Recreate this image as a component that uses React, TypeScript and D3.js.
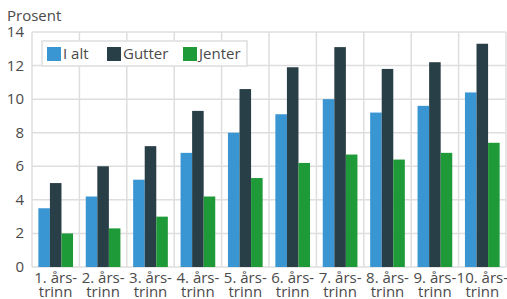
import { useEffect, useRef } from "react";
import * as d3 from "d3";

// Data
const trinn = ["1.", "2.", "3.", "4.", "5.", "6.", "7.", "8.", "9.", "10."];
const serier = ["I alt", "Gutter", "Jenter"];
const iAlt = [3.5, 4.2, 5.2, 6.8, 8.0, 9.1, 10.0, 9.2, 9.6, 10.4];
const gutter = [5.0, 6.0, 7.2, 9.3, 10.6, 11.9, 13.1, 11.8, 12.2, 13.3];
const jenter = [2.0, 2.3, 3.0, 4.2, 5.3, 6.2, 6.7, 6.4, 6.8, 7.4];
const yTicks = [0, 2, 4, 6, 8, 10, 12, 14];

const FARGER = ["#3a95d3", "#283f48", "#1f9a38"];

const App = () => {
  const svgRef = useRef<SVGSVGElement>(null);

  useEffect(() => {
    if (!svgRef.current) return;
    const width = 507;
    const height = 299;
    const margin = { top: 32, right: 1, bottom: 32, left: 32 };
    const innerWidth = width - margin.left - margin.right;
    const innerHeight = height - margin.top - margin.bottom;

    const svg = d3.select(svgRef.current);
    svg.selectAll("*").remove();
    svg.attr("width", width).attr("height", height);

    const font = "'Open Sans', sans-serif";
    const textColor = "#4a4a4a";
    const g = svg.append("g").attr("transform", `translate(${margin.left},${margin.top})`);

    const x = d3.scaleBand().domain(trinn).range([0, innerWidth]).paddingInner(0).paddingOuter(0);
    const xInner = d3
      .scaleBand()
      .domain(serier)
      .range([0, x.bandwidth()])
      .paddingOuter(0.55)
      .paddingInner(0);
    const y = d3.scaleLinear().domain([0, 14]).range([innerHeight, 0]);

    // grid
    g.append("g")
      .selectAll("line")
      .data(yTicks)
      .join("line")
      .attr("x1", 0)
      .attr("x2", innerWidth)
      .attr("y1", (d) => y(d))
      .attr("y2", (d) => y(d))
      .attr("stroke", "#dedede")
      .attr("stroke-width", 1.5);

    const bounds = trinn.map((t) => x(t) ?? 0).concat([innerWidth]);
    g.append("g")
      .selectAll("line")
      .data(bounds)
      .join("line")
      .attr("x1", (d) => d)
      .attr("x2", (d) => d)
      .attr("y1", 0)
      .attr("y2", innerHeight)
      .attr("stroke", "#dedede")
      .attr("stroke-width", 1.5);

    // bars
    const verdier = [iAlt, gutter, jenter];
    serier.forEach((s, si) => {
      g.append("g")
        .selectAll("rect")
        .data(verdier[si])
        .join("rect")
        .attr("x", (_, i) => (x(trinn[i]) ?? 0) + (xInner(s) ?? 0))
        .attr("y", (d) => y(d))
        .attr("width", xInner.bandwidth())
        .attr("height", (d) => innerHeight - y(d))
        .attr("fill", FARGER[si]);
    });

    // y labels
    g.append("g")
      .selectAll("text")
      .data(yTicks)
      .join("text")
      .attr("x", -8)
      .attr("y", (d) => y(d) + 5)
      .attr("text-anchor", "end")
      .style("font-family", font)
      .style("font-size", "15px")
      .attr("fill", textColor)
      .text((d) => d);

    svg
      .append("text")
      .attr("x", 7)
      .attr("y", 21)
      .style("font-family", font)
      .style("font-size", "15px")
      .attr("fill", textColor)
      .text("Prosent");

    // x labels
    const xl = g
      .append("g")
      .selectAll("text")
      .data(trinn)
      .join("text")
      .attr("text-anchor", "middle")
      .style("font-family", font)
      .style("font-size", "15px")
      .attr("fill", textColor);
    xl.append("tspan")
      .attr("x", (d) => (x(d) ?? 0) + x.bandwidth() / 2)
      .attr("y", innerHeight + 16)
      .text((d) => `${d} års-`);
    xl.append("tspan")
      .attr("x", (d) => (x(d) ?? 0) + x.bandwidth() / 2)
      .attr("y", innerHeight + 30)
      .text("trinn");

    // legend
    const leg = svg.append("g").attr("transform", "translate(42,41)");
    leg
      .append("rect")
      .attr("width", 205)
      .attr("height", 25)
      .attr("fill", "white")
      .attr("stroke", "#dedede")
      .attr("stroke-width", 1.5);
    const legX = [5, 65, 141];
    serier.forEach((s, i) => {
      leg
        .append("rect")
        .attr("x", legX[i])
        .attr("y", 6)
        .attr("width", 14)
        .attr("height", 14)
        .attr("fill", FARGER[i]);
      leg
        .append("text")
        .attr("x", legX[i] + 16)
        .attr("y", 18)
        .style("font-family", font)
        .style("font-size", "15px")
        .attr("fill", textColor)
        .text(s);
    });
  }, []);

  return (
    <svg
      ref={svgRef}
      style={{ position: "absolute", left: 0, top: 0, display: "block" }}
    />
  );
};

export default App;
